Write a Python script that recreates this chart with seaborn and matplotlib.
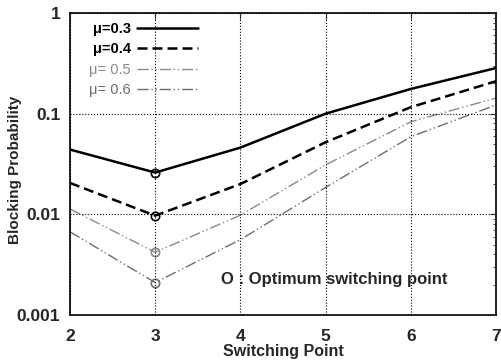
import matplotlib
matplotlib.use("Agg")
import matplotlib.pyplot as plt
import seaborn as sns
import pandas as pd

switching_points = [2, 3, 4, 5, 6, 7]
mu_labels = ["\u03bc=0.3", "\u03bc=0.4", "\u03bc= 0.5", "\u03bc= 0.6"]
p_mu03 = [0.044, 0.026, 0.046, 0.10, 0.176, 0.284]
p_mu04 = [0.0205, 0.0097, 0.020, 0.052, 0.116, 0.21]
p_mu05 = [0.0113, 0.0042, 0.0098, 0.031, 0.083, 0.143]
p_mu06 = [0.0067, 0.0021, 0.0056, 0.0185, 0.059, 0.122]
optimum_point = 3

sns.set_style("white")
plt.rcParams['font.family'] = ['Liberation Sans', 'DejaVu Sans']

series = [p_mu03, p_mu04, p_mu05, p_mu06]
colors = ["black", "black", "#8a8a8a", "#6e6e6e"]
widths = [1.8, 1.8, 1.0, 1.0]
dashes = [None, (4, 2), (8, 2, 1, 2, 1, 2), (8, 2, 1, 2, 1, 2)]

fig = plt.figure(figsize=(5.01, 3.64), dpi=100)
ax = fig.add_axes([0.1397, 0.1346, 0.8503, 0.8297])

for lab, vals, c, w, d in zip(mu_labels, series, colors, widths, dashes):
    df = pd.DataFrame({"x": switching_points, "y": vals})
    sns.lineplot(data=df, x="x", y="y", ax=ax, color=c, linewidth=w, label=lab)
    line = ax.get_lines()[-1]
    if d is not None:
        line.set_dashes(d)
    i = switching_points.index(optimum_point)
    ax.plot(optimum_point, vals[i], marker="o", ms=6, mfc="none", mec=c, mew=1.2, ls="none")

ax.set_yscale("log")
ax.set_xlim(2, 7)
ax.set_ylim(0.001, 1)
ax.set_yticks([0.001, 0.01, 0.1, 1])
ax.set_yticklabels(["0.001", "0.01", "0.1", "1"])
ax.set_xticks(switching_points)
ax.xaxis.grid(True, which="major", color="black", linestyle=":", linewidth=0.8)
ax.yaxis.grid(True, which="major", color="black", linestyle=":", linewidth=0.8)
ax.set_axisbelow(False)
ax.tick_params(which="both", direction="in", top=True, right=True, labelsize=12.5)
ax.tick_params(axis="x", which="major", length=4, pad=10)
ax.tick_params(axis="y", which="major", length=4, pad=7)
ax.tick_params(which="minor", length=2)
for lbl in ax.get_xticklabels() + ax.get_yticklabels():
    lbl.set_fontweight("bold")
for s in ax.spines.values():
    s.set_color("black")
    s.set_linewidth(1.2)

ax.set_xlabel("Switching Point", fontsize=11.5, fontweight="bold")
ax.set_ylabel("Blocking Probability", fontsize=11, fontweight="bold")
ax.xaxis.set_label_coords(0.5, -0.097)
ax.yaxis.set_label_coords(-0.113, 0.48)

leg = ax.legend(loc="upper left", frameon=False, markerfirst=False, fontsize=10.5,
                handlelength=4.2, handletextpad=0.4, labelspacing=0.45,
                borderaxespad=0.2, bbox_to_anchor=(0.025, 1.0))
for t, c in zip(leg.get_texts(), colors):
    t.set_color(c)
    t.set_ha("left")
for t in leg.get_texts()[:2]:
    t.set_fontweight("bold")

ax.text(3.77, 0.00223, "O : Optimum switching point", fontsize=12, fontweight="bold",
        va="center", ha="left")

fig.savefig("out.png", dpi=100)
